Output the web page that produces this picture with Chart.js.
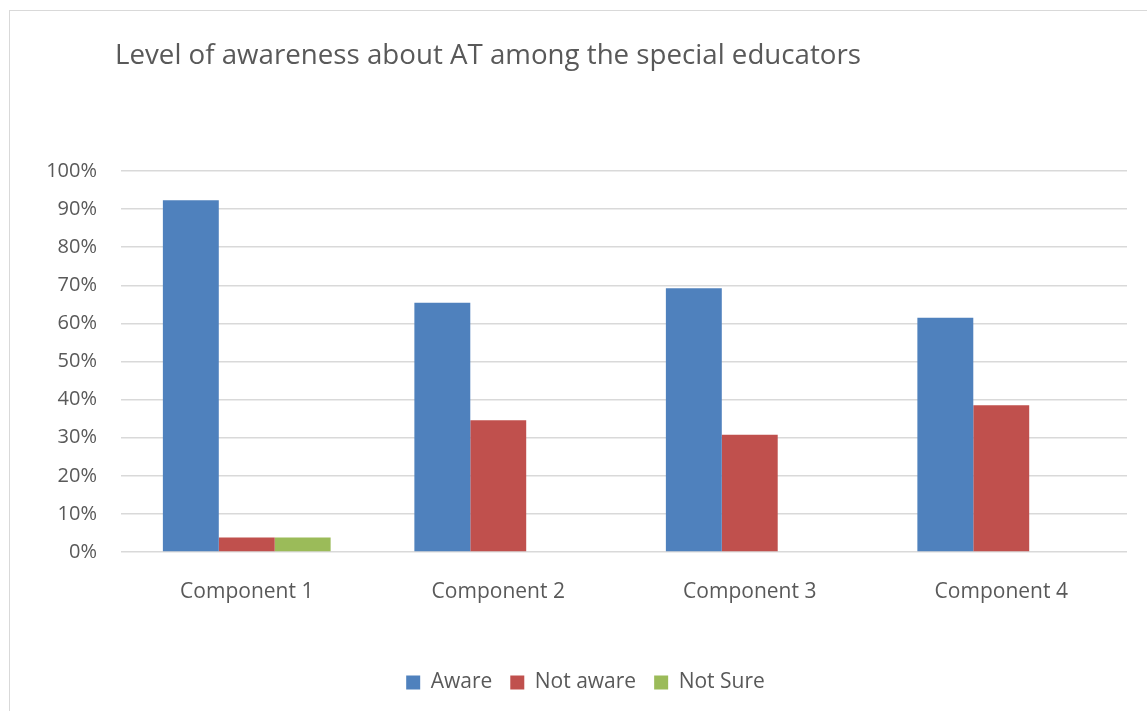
<!DOCTYPE html>
<html>
<head>
<meta charset="utf-8">
<title>Level of awareness about AT</title>
<script src="https://cdn.jsdelivr.net/npm/chart.js@4.4.0/dist/chart.umd.min.js"></script>
<style>
  html, body { margin: 0; padding: 0; background: #fff; overflow: hidden; }
  #frame {
    position: absolute; left: 9px; top: 10px; width: 1200px; height: 800px;
    border-top: 1.5px solid #d9d9d9; border-left: 1.5px solid #d9d9d9;
  }
  #grafico { position: absolute; left: 0; top: 0; }
</style>
</head>
<body>
<div id="frame"></div>
<canvas id="grafico" width="1147" height="711"></canvas>
<script>
// Dados do gráfico (percentual de respostas por componente)
const componentes = ['Component 1', 'Component 2', 'Component 3', 'Component 4'];
const aware = [92.3, 65.4, 69.2, 61.5];
const notAware = [3.8, 34.6, 30.8, 38.5];
const notSure = [3.8, 0, 0, 0];

const titulo = 'Level of awareness about AT among the special educators';

// Paleta no estilo do Office
const cores = {
    azul: '#4f81bd',
    vermelho: '#c0504d',
    verde: '#9bbb59',
    texto: '#595959',
    grade: '#d9d9d9'
};

const fonte = '"Open Sans", sans-serif';

// Título desenhado alinhado à esquerda da área do gráfico
const tituloPlugin = {
    id: 'tituloEsquerda',
    afterDraw(chart) {
        const ctx = chart.ctx;
        ctx.save();
        ctx.font = '27.7px ' + fonte;
        ctx.fillStyle = cores.texto;
        ctx.textBaseline = 'alphabetic';
        ctx.textAlign = 'left';
        ctx.fillText(titulo, chart.chartArea.left - 6, 64);
        ctx.restore();
    }
};

new Chart(document.getElementById('grafico'), {
    type: 'bar',
    data: {
        labels: componentes,
        datasets: [
            { label: 'Aware', data: aware, backgroundColor: cores.azul },
            { label: 'Not aware', data: notAware, backgroundColor: cores.vermelho },
            { label: 'Not Sure', data: notSure, backgroundColor: cores.verde }
        ]
    },
    options: {
        responsive: false,
        animation: false,
        datasets: {
            bar: { categoryPercentage: 0.667, barPercentage: 1.0, borderWidth: 0 }
        },
        layout: { padding: { left: 44, right: 20, top: 171, bottom: 8 } },
        plugins: {
            title: { display: false },
            tooltip: { enabled: false },
            legend: {
                position: 'bottom',
                labels: {
                    boxWidth: 14,
                    boxHeight: 14,
                    padding: 18,
                    color: cores.texto,
                    font: { family: fonte, size: 21 }
                }
            }
        },
        scales: {
            x: {
                grid: { display: false },
                border: { display: false },
                ticks: { color: cores.texto, padding: 19, font: { family: fonte, size: 21 } },
                afterFit(scale) { scale.height = 102; }
            },
            y: {
                min: 0,
                max: 100,
                grid: { color: cores.grade, drawTicks: false, lineWidth: 1.5 },
                border: { display: false },
                ticks: {
                    stepSize: 10,
                    padding: 24,
                    color: cores.texto,
                    font: { family: fonte, size: 20 },
                    callback: v => v + '%'
                },
                afterFit(scale) { scale.width = 77; }
            }
        }
    },
    plugins: [tituloPlugin]
});
</script>
</body>
</html>
